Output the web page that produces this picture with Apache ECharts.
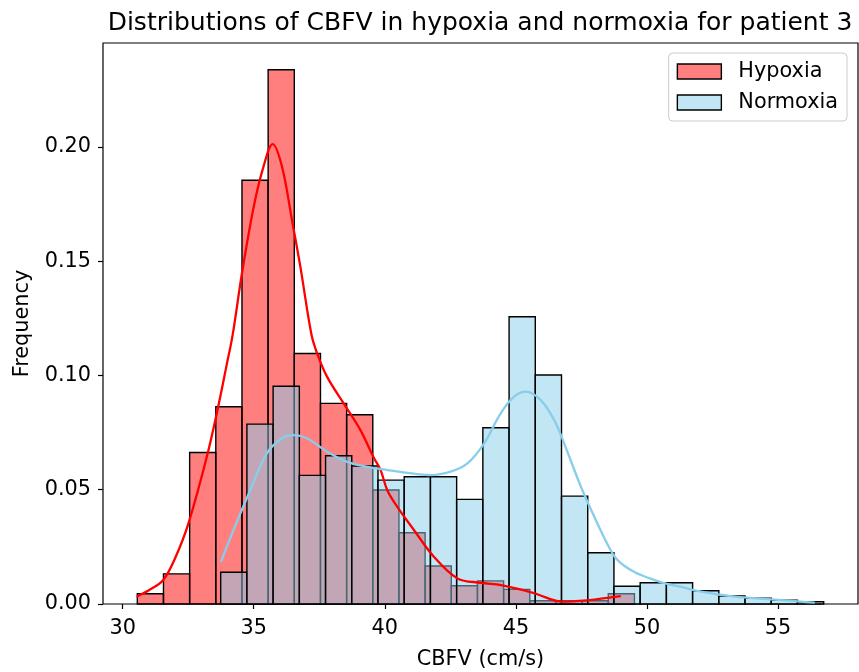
<!DOCTYPE html>
<html>
<head>
<meta charset="utf-8">
<script src="https://cdn.jsdelivr.net/npm/echarts@6/dist/echarts.min.js"></script>
<style>
  html, body { margin: 0; padding: 0; background: #fff; }
  #chart { width: 859px; height: 672px; }
</style>
</head>
<body>
<div id="chart"></div>
<script>
// Histogram bins (density) for CBFV, patient 3
const hypoxiaBinStart = 30.56;
const hypoxiaBinWidth = 0.998;
const hypoxiaDensity = [0.0045, 0.0132, 0.0663, 0.0863, 0.1854, 0.2338, 0.1096, 0.0878, 0.0828, 0.0499,
                        0.0312, 0.0166, 0.0080, 0.0101, 0.0064, 0.0014, 0.0014, 0.0014, 0.0045];

const normoxiaBinStart = 33.74;
const normoxiaBinWidth = 1.0;
const normoxiaDensity = [0.0139, 0.0787, 0.0953, 0.0563, 0.0649, 0.0604, 0.0542, 0.0557, 0.0557, 0.0458,
                         0.0771, 0.1257, 0.1002, 0.0472, 0.0224, 0.0078, 0.0093, 0.0093, 0.0058, 0.0035,
                         0.0025, 0.0017, 0.0010];

// Kernel density estimates
const hypoxiaKdeX = [30.53, 31.0, 31.55, 32.0, 32.51, 33.21, 33.59, 33.98, 34.2, 34.55, 35.0, 35.37, 35.72,
                     36.08, 36.46, 36.78, 37.2, 37.42, 37.8, 38.43, 39.07, 39.58, 39.84, 40.09, 40.47, 41.11,
                     41.87, 42.77, 43.66, 44.43, 45.0, 45.7, 46.78, 47.8, 48.5, 49.0];
const hypoxiaKdeY = [0.0032, 0.0060, 0.0105, 0.0200, 0.0353, 0.0644, 0.0834, 0.1053, 0.1180, 0.1446, 0.1738, 0.1913, 0.2012,
                     0.1913, 0.1679, 0.1475, 0.1180, 0.1096, 0.0994, 0.0878, 0.0761, 0.0640, 0.0586, 0.0499, 0.0426, 0.0324,
                     0.0207, 0.0112, 0.0093, 0.0083, 0.0068, 0.0047, 0.0010, 0.0017, 0.0027, 0.0034];

const normoxiaKdeX = [33.75, 34.23, 34.87, 35.5, 36.08, 36.52, 37.03, 37.8, 38.56, 39.33, 40.09, 40.86, 41.75,
                      42.51, 43.15, 43.79, 44.42, 44.93, 45.38, 45.95, 46.46, 46.84, 47.48, 47.99, 48.5, 48.88,
                      49.52, 50.41, 50.8, 51.3, 52.07, 53.34, 54.62, 55.89, 56.4];
const normoxiaKdeY = [0.0185, 0.0324, 0.0499, 0.0659, 0.0725, 0.0739, 0.0725, 0.0666, 0.0622, 0.0600, 0.0586, 0.0574, 0.0564,
                      0.0579, 0.0615, 0.0703, 0.0834, 0.0907, 0.0929, 0.0892, 0.0805, 0.0703, 0.0513, 0.0382, 0.0260, 0.0192,
                      0.0140, 0.0100, 0.0087, 0.0075, 0.0054, 0.0032, 0.0021, 0.0010, 0.0006];

const xTickValues = [30, 35, 40, 45, 50, 55];
const yTickValues = [0, 0.05, 0.10, 0.15, 0.20];

const FONT = 'DejaVu Sans';

function binRows(start, width, heights) {
  return heights.map((h, i) => [start + i * width, start + (i + 1) * width, h]);
}
function pairs(xs, ys) {
  return xs.map((x, i) => [x, ys[i]]);
}

const hypoxiaRows = binRows(hypoxiaBinStart, hypoxiaBinWidth, hypoxiaDensity);
const normoxiaRows = binRows(normoxiaBinStart, normoxiaBinWidth, normoxiaDensity);

// Axis extents: 5% margin around the binned data range, y from zero
const dataMin = Math.min(hypoxiaRows[0][0], normoxiaRows[0][0]);
const dataMax = Math.max(hypoxiaRows[hypoxiaRows.length - 1][1], normoxiaRows[normoxiaRows.length - 1][1]);
const xPad = 0.05 * (dataMax - dataMin);
const yMax = 1.05 * Math.max(...hypoxiaDensity, ...normoxiaDensity);

const HYPOXIA_FILL = 'rgba(255, 0, 0, 0.5)';
const NORMOXIA_FILL = 'rgba(135, 206, 235, 0.5)';

function histRenderer(fill) {
  return function (params, api) {
    const topLeft = api.coord([api.value(0), api.value(2)]);
    const bottomRight = api.coord([api.value(1), 0]);
    return {
      type: 'rect',
      shape: {
        x: topLeft[0],
        y: topLeft[1],
        width: bottomRight[0] - topLeft[0],
        height: bottomRight[1] - topLeft[1]
      },
      style: { fill: fill, stroke: '#000', lineWidth: 1.4 }
    };
  };
}

const chart = echarts.init(document.getElementById('chart'), null, { renderer: 'canvas' });

chart.setOption({
  animation: false,
  backgroundColor: '#fff',
  textStyle: { fontFamily: FONT },
  title: {
    text: 'Distributions of CBFV in hypoxia and normoxia for patient 3',
    left: 475,
    top: 6,
    textAlign: 'center',
    textStyle: { fontFamily: FONT, fontSize: 25, fontWeight: 'normal', color: '#000' }
  },
  legend: {
    orient: 'vertical',
    right: 12,
    top: 53,
    padding: [8, 9, 8, 8],
    itemGap: 10,
    itemWidth: 44,
    itemHeight: 15,
    backgroundColor: 'rgba(255,255,255,0.8)',
    borderColor: '#cccccc',
    borderWidth: 1,
    borderRadius: 4,
    textStyle: { fontFamily: FONT, fontSize: 20.8, color: '#000', padding: [0, 0, 0, 12] },
    data: [
      { name: 'Hypoxia', icon: 'rect', itemStyle: { color: HYPOXIA_FILL, borderColor: '#000', borderWidth: 1.4 } },
      { name: 'Normoxia', icon: 'rect', itemStyle: { color: NORMOXIA_FILL, borderColor: '#000', borderWidth: 1.4 } }
    ]
  },
  grid: {
    left: 103,
    right: 1,
    top: 43,
    bottom: 68,
    show: true,
    borderColor: '#000',
    borderWidth: 1.2,
    containLabel: false,
    outerBoundsMode: 'none'
  },
  xAxis: {
    type: 'value',
    min: dataMin - xPad,
    max: dataMax + xPad,
    name: 'CBFV (cm/s)',
    nameLocation: 'middle',
    nameGap: 45,
    nameTextStyle: { fontFamily: FONT, fontSize: 20.8, color: '#000' },
    splitLine: { show: false },
    axisLine: { show: false },
    axisTick: { show: true, length: 5, lineStyle: { color: '#000', width: 1.2 }, customValues: xTickValues },
    axisLabel: { show: true, margin: 14, fontFamily: FONT, fontSize: 20.8, color: '#000',
                 customValues: xTickValues, formatter: v => String(v) }
  },
  yAxis: {
    type: 'value',
    min: 0,
    max: yMax,
    name: 'Frequency',
    nameLocation: 'middle',
    nameRotate: 90,
    nameGap: 70,
    nameTextStyle: { fontFamily: FONT, fontSize: 20.8, color: '#000' },
    splitLine: { show: false },
    axisLine: { show: false },
    axisTick: { show: true, length: 5, lineStyle: { color: '#000', width: 1.2 }, customValues: yTickValues },
    axisLabel: { show: true, margin: 12, fontFamily: FONT, fontSize: 20.8, color: '#000',
                 customValues: yTickValues, formatter: v => v.toFixed(2) }
  },
  series: [
    {
      name: 'Hypoxia',
      type: 'custom',
      renderItem: histRenderer(HYPOXIA_FILL),
      itemStyle: { color: HYPOXIA_FILL },
      encode: { x: [0, 1], y: 2 },
      data: hypoxiaRows,
      z: 1
    },
    {
      name: 'Normoxia',
      type: 'custom',
      renderItem: histRenderer(NORMOXIA_FILL),
      itemStyle: { color: NORMOXIA_FILL },
      encode: { x: [0, 1], y: 2 },
      data: normoxiaRows,
      z: 1
    },
    {
      name: 'Hypoxia KDE',
      type: 'line',
      data: pairs(hypoxiaKdeX, hypoxiaKdeY),
      smooth: 0.35,
      symbol: 'none',
      lineStyle: { color: '#ff0000', width: 2.3 },
      itemStyle: { color: '#ff0000' },
      z: 3
    },
    {
      name: 'Normoxia KDE',
      type: 'line',
      data: pairs(normoxiaKdeX, normoxiaKdeY),
      smooth: 0.35,
      symbol: 'none',
      lineStyle: { color: '#87ceeb', width: 2.3 },
      itemStyle: { color: '#87ceeb' },
      z: 3
    }
  ]
});
</script>
</body>
</html>
